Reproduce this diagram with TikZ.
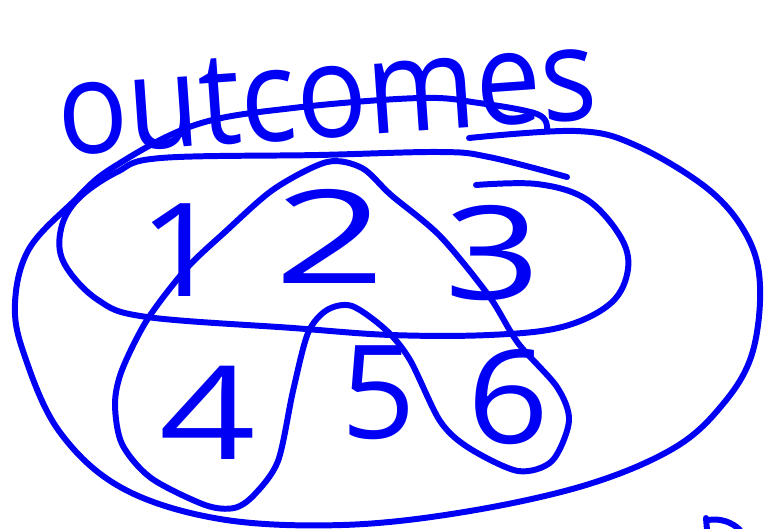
\documentclass[tikz,border=0pt]{standalone}
\usepackage{fontspec}
\setmainfont{Open Sans}
\usepackage{tikz}
\definecolor{penc}{HTML}{0000F5}
\tikzset{
  pen/.style={draw=penc,line width=3.4pt,line cap=round,line join=round},
  digit/.style={text=penc,font=\fontsize{74}{80}\selectfont,inner sep=0pt},
  title/.style={text=penc,font=\fontsize{74}{80}\selectfont,inner sep=0pt},
}
\begin{document}
\begin{tikzpicture}[x=0.02cm,y=-0.02cm]
  \useasboundingbox (0,0) rectangle (766,528);
  % heading
  \node[title,anchor=base,rotate=4,xscale=0.9] (head) at (330,137) {outcomes};
  % sample space
  \draw[pen] plot[smooth,tension=0.6] coordinates {(469,138) (576,131) (635,145) (708,189) (747,236) (760,286) (752,354) (723,404) (674,448) (586,485) (464,512) (342,525) (220,519) (122,488) (59,431) (24,354) (15,303) (29,249) (73,202) (112,168) (195,125) (293,108) (420,98) (479,103) (537,114) (547,128)};
  % first row
  \draw[pen] plot[smooth,tension=0.6] coordinates {(567,177) (489,157) (440,152) (318,155) (161,158) (117,172) (78,199) (61,229) (64,263) (98,300) (147,317) (293,328) (391,335) (489,335) (562,327) (611,303) (628,269) (620,236) (586,199) (537,184) (476,185)};
  % peak
  \draw[pen] plot[smooth cycle,tension=0.5] coordinates {(327,162) (274,189) (225,232) (186,269) (147,320) (122,370) (115,404) (122,444) (151,478) (205,505) (234,508) (254,495) (278,461) (293,391) (308,333) (327,310) (352,306) (386,330) (410,360) (440,421) (469,448) (518,471) (552,461) (569,421) (557,387) (518,343) (489,296) (440,236) (391,195) (362,168)};
  % outcomes
  \node[digit,xscale=1.15] (d1) at (181,250) {1};
  \node[digit,xscale=1.5] (d2) at (330,236) {2};
  \node[digit,xscale=1.3] (d3) at (493,253) {3};
  \node[digit,xscale=1.3] (d4) at (208,413) {4};
  \node[digit] (d5) at (379,393) {5};
  \node[digit,xscale=1.1] (d6) at (508,397) {6};
  % cut-off stroke
  \draw[pen] (706,518) -- (707,530);
  \draw[pen] (708,520) .. controls (720,518) and (732,522) .. (740,530);
\end{tikzpicture}
\end{document}
